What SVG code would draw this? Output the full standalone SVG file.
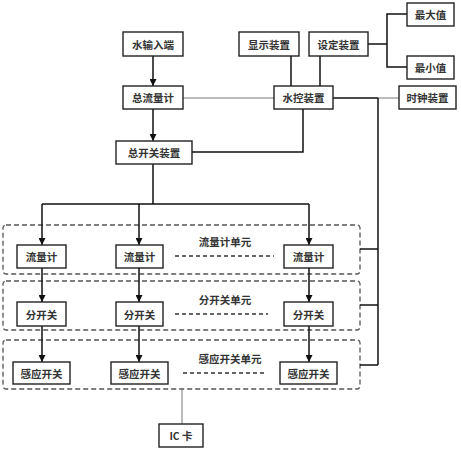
<svg xmlns="http://www.w3.org/2000/svg" width="461" height="450" viewBox="0 0 461 450">
<style>
.b{fill:#fff;stroke:#222;stroke-width:1.4}
.t{font-family:"Noto Sans CJK SC","Noto Sans",sans-serif;font-size:10.5px;font-weight:bold;fill:#333;text-anchor:middle;dominant-baseline:central}
.c{fill:none;stroke:#111;stroke-width:1.5}
.g{fill:none;stroke:#777;stroke-width:1}
.d{fill:none;stroke:#555;stroke-width:1.3;stroke-dasharray:5,3}
.dl{fill:none;stroke:#333;stroke-width:1.3;stroke-dasharray:4,3}
</style>
<defs>
<marker id="a" viewBox="0 0 10 10" refX="10" refY="5" markerWidth="7" markerHeight="7" markerUnits="userSpaceOnUse" orient="auto">
<path d="M0,0 L10,5 L0,10 z" fill="#111"/>
</marker>
</defs>
<g id="containers">
<rect id="unit1" class="d" x="3" y="225" width="357" height="49" rx="3"/>
<rect id="unit2" class="d" x="3" y="281" width="357" height="49" rx="3"/>
<rect id="unit3" class="d" x="3" y="340" width="357" height="49" rx="3"/>
<text class="t" x="225" y="241">流量计单元</text>
<text class="t" x="225" y="299">分开关单元</text>
<text class="t" x="230" y="358">感应开关单元</text>
<line class="dl" x1="175" y1="256" x2="274" y2="256"/>
<line class="dl" x1="175" y1="314" x2="268" y2="314"/>
<line class="dl" x1="183" y1="373" x2="267" y2="373"/>
</g>
<g id="connectors">
<line class="c" x1="153" y1="56" x2="153" y2="86" marker-end="url(#a)"/>
<line class="c" x1="153" y1="109" x2="153" y2="141" marker-end="url(#a)"/>
<line class="g" x1="183" y1="98" x2="274" y2="98"/>
<line class="c" x1="291" y1="56" x2="291" y2="86"/>
<line class="c" x1="320" y1="56" x2="320" y2="86"/>
<polyline class="c" points="368,44 387,44"/>
<polyline class="c" points="407,14 387,14 387,67 407,67"/>
<polyline class="c" points="333,98 378,98"/>
<polyline class="g" points="378,98 399,98"/>
<polyline class="c" points="192,152 303,152 303,109"/>
<polyline class="c" points="378,98 378,365"/>
<line class="c" x1="360" y1="249" x2="378" y2="249"/>
<line class="c" x1="360" y1="305" x2="378" y2="305"/>
<line class="c" x1="360" y1="365" x2="378" y2="365"/>
<line class="c" x1="153" y1="164" x2="153" y2="204"/>
<line class="c" x1="42" y1="204" x2="309" y2="204"/>
<line class="c" x1="42" y1="204" x2="42" y2="245" marker-end="url(#a)"/>
<line class="c" x1="139" y1="204" x2="139" y2="245" marker-end="url(#a)"/>
<line class="c" x1="309" y1="204" x2="309" y2="245" marker-end="url(#a)"/>
<line class="c" x1="42" y1="268" x2="42" y2="302" marker-end="url(#a)"/>
<line class="c" x1="139" y1="268" x2="139" y2="302" marker-end="url(#a)"/>
<line class="c" x1="309" y1="268" x2="309" y2="302" marker-end="url(#a)"/>
<line class="c" x1="42" y1="326" x2="42" y2="362" marker-end="url(#a)"/>
<line class="c" x1="139" y1="326" x2="139" y2="362" marker-end="url(#a)"/>
<line class="c" x1="309" y1="326" x2="309" y2="362" marker-end="url(#a)"/>
<line class="g" x1="182" y1="389" x2="182" y2="424"/>
</g>
<g id="n_water_in"><rect class="b" x="123" y="32" width="60" height="24"/><text class="t" x="153" y="44">水输入端</text></g>
<g id="n_display"><rect class="b" x="239" y="32" width="60" height="24"/><text class="t" x="269" y="44">显示装置</text></g>
<g id="n_setting"><rect class="b" x="309" y="32" width="59" height="24"/><text class="t" x="338.5" y="44">设定装置</text></g>
<g id="n_max"><rect class="b" x="407" y="3" width="47" height="23"/><text class="t" x="430.5" y="14.5">最大值</text></g>
<g id="n_min"><rect class="b" x="407" y="56" width="47" height="23"/><text class="t" x="430.5" y="67.5">最小值</text></g>
<g id="n_total_meter"><rect class="b" x="123" y="86" width="60" height="23"/><text class="t" x="153" y="97.5">总流量计</text></g>
<g id="n_control"><rect class="b" x="274" y="86" width="59" height="23"/><text class="t" x="303.5" y="97.5">水控装置</text></g>
<g id="n_clock"><rect class="b" x="399" y="86" width="57" height="23"/><text class="t" x="427.5" y="97.5">时钟装置</text></g>
<g id="n_main_switch"><rect class="b" x="116" y="141" width="76" height="23"/><text class="t" x="154" y="152.5">总开关装置</text></g>
<g id="n_meter1"><rect class="b" x="17" y="245" width="49" height="23"/><text class="t" x="41.5" y="256.5">流量计</text></g>
<g id="n_meter2"><rect class="b" x="116" y="245" width="47" height="23"/><text class="t" x="139.5" y="256.5">流量计</text></g>
<g id="n_meter3"><rect class="b" x="284" y="245" width="49" height="23"/><text class="t" x="308.5" y="256.5">流量计</text></g>
<g id="n_sw1"><rect class="b" x="17" y="302" width="49" height="24"/><text class="t" x="41.5" y="314">分开关</text></g>
<g id="n_sw2"><rect class="b" x="116" y="302" width="47" height="24"/><text class="t" x="139.5" y="314">分开关</text></g>
<g id="n_sw3"><rect class="b" x="284" y="302" width="49" height="24"/><text class="t" x="308.5" y="314">分开关</text></g>
<g id="n_sense1"><rect class="b" x="13" y="362" width="57" height="22"/><text class="t" x="41.5" y="373">感应开关</text></g>
<g id="n_sense2"><rect class="b" x="111" y="362" width="57" height="22"/><text class="t" x="139.5" y="373">感应开关</text></g>
<g id="n_sense3"><rect class="b" x="280" y="362" width="57" height="22"/><text class="t" x="308.5" y="373">感应开关</text></g>
<g id="n_ic"><rect class="b" x="159" y="424" width="44" height="23"/><text class="t" x="181" y="435.5">IC 卡</text></g>
</svg>
